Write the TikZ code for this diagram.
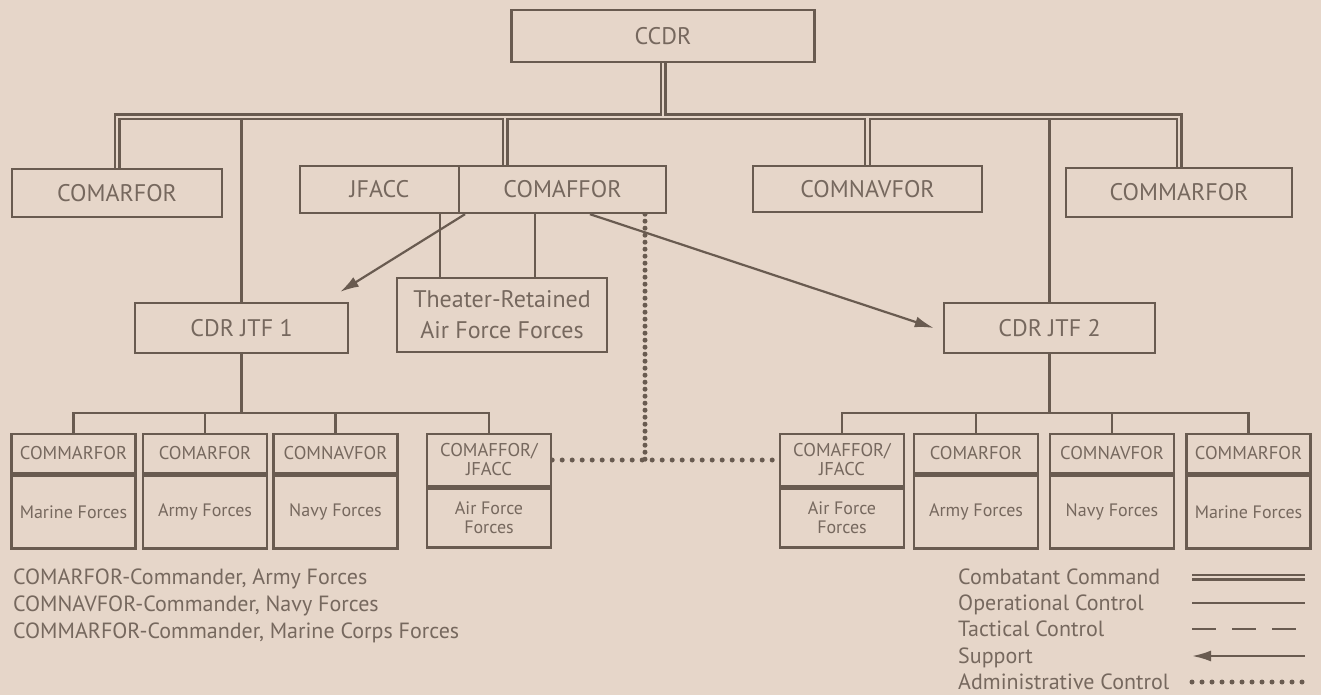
\documentclass[tikz,border=0pt]{standalone}
\usepackage{fontspec}
\setmainfont{PT Sans}
\usetikzlibrary{arrows.meta,backgrounds}
\definecolor{paper}{RGB}{230,214,201}
\definecolor{ink}{RGB}{105,91,80}
\definecolor{txt}{RGB}{118,104,94}
\tikzset{
  box/.style={draw=ink, line width=2.4pt, fill=paper, text=txt, inner sep=0pt, align=center},
  big/.style={box, font=\fontsize{24}{31}\selectfont},
  hdr/.style={box, font=\fontsize{18.5}{19}\selectfont, minimum width=124pt, minimum height=39pt},
  frc/.style={box, font=\fontsize{18}{19}\selectfont, minimum width=124pt, minimum height=73pt, anchor=north},
  opcon/.style={draw=ink, line width=2.2pt},
  supp/.style={draw=ink, line width=2.2pt, -{Latex[length=19pt,width=11pt]}},
  admin/.style={draw=ink, line width=5pt, line cap=round, dash pattern=on 0pt off 10pt},
  tacon/.style={draw=ink, line width=2.2pt, dash pattern=on 24pt off 16pt},
  key/.style={text=txt, anchor=west, inner sep=0pt, text height=15pt, text depth=0pt, font=\fontsize{22}{24}\selectfont}
}
\begin{document}
\begin{tikzpicture}[x=1pt,y=-1pt]
\useasboundingbox (0,0) rectangle (1321,695);

\node[big, minimum width=303pt, minimum height=52pt] (CCDR) at (663,36) {CCDR};
\node[big, minimum width=210pt, minimum height=48pt] (ARF) at (117,193) {COMARFOR};
\node[big, minimum width=159pt, minimum height=47pt] (JFACC) at (379.5,189.5) {JFACC};
\node[big, minimum width=207pt, minimum height=47pt] (AFF) at (562.5,189.5) {COMAFFOR};
\node[big, minimum width=229pt, minimum height=46pt] (NAVF) at (867.5,189) {COMNAVFOR};
\node[big, minimum width=226pt, minimum height=49pt] (MARF) at (1179,192.5) {COMMARFOR};
\node[big, minimum width=213pt, minimum height=50pt] (JTF1) at (241.5,328) {CDR JTF 1};
\node[big, minimum width=210pt, minimum height=74pt] (TR) at (502,315) {Theater-Retained\\Air Force Forces};
\node[big, minimum width=211pt, minimum height=50pt] (JTF2) at (1049.5,328) {CDR JTF 2};

\node[hdr] (A1) at (73.5,453.5) {COMMARFOR};
\node[frc] (A1f) at (A1.south) {Marine Forces};
\node[hdr] (A2) at (205,453.5) {COMARFOR};
\node[frc] (A2f) at (A2.south) {Army Forces};
\node[hdr] (A3) at (335.5,453.5) {COMNAVFOR};
\node[frc] (A3f) at (A3.south) {Navy Forces};
\node[hdr, minimum height=52pt] (A4) at (489,460) {COMAFFOR/\\JFACC};
\node[frc, minimum height=59pt] (A4f) at (A4.south) {Air Force\\Forces};

\node[hdr, minimum height=52pt] (B1) at (842,460) {COMAFFOR/\\JFACC};
\node[frc, minimum height=59pt] (B1f) at (B1.south) {Air Force\\Forces};
\node[hdr] (B2) at (976,453.5) {COMARFOR};
\node[frc] (B2f) at (B2.south) {Army Forces};
\node[hdr] (B3) at (1112,453.5) {COMNAVFOR};
\node[frc] (B3f) at (B3.south) {Navy Forces};
\node[hdr] (B4) at (1248.5,453.5) {COMMARFOR};
\node[frc] (B4f) at (B4.south) {Marine Forces};

\node[key] (L1) at (13,577) {COMARFOR-Commander, Army Forces};
\node[key] (L2) at (13,604) {COMNAVFOR-Commander, Navy Forces};
\node[key] (L3) at (13,631) {COMMARFOR-Commander, Marine Corps Forces};

\node[key] (K1) at (958,577) {Combatant Command};
\node[key] (K2) at (958,603) {Operational Control};
\node[key] (K3) at (958,629) {Tactical Control};
\node[key] (K4) at (958,656) {Support};
\node[key] (K5) at (958,682) {Administrative Control};

\coordinate (bus) at (0,117);
\coordinate (bus2) at (0,413);
\coordinate (affx) at (505,0);
\coordinate (tl) at (440,0);
\coordinate (tr) at (535,0);
\coordinate (s1) at (465,0);
\coordinate (s2) at (590,0);
\coordinate (tip1) at (340,292);
\coordinate (ax) at (645,0);
\coordinate (kl) at (1192,0);
\coordinate (kr) at (1305,0);

\begin{scope}[on background layer]
\fill[paper] (0,0) rectangle (1321,695);
\draw[opcon] (JTF1.north) -- (JTF1.north |- bus);
\draw[opcon] (JTF2.north) -- (JTF2.north |- bus);
\foreach \w/\c in {7pt/ink,2.4pt/paper}
  \draw[\c, line width=\w] (ARF.north) |- (MARF.north |- bus) -- (MARF.north)
    (CCDR.south) -- (CCDR.south |- bus)
    (affx |- AFF.north) -- (affx |- bus)
    (NAVF.north) -- (NAVF.north |- bus);
\draw[opcon] (tl |- JFACC.south) -- (tl |- TR.north);
\draw[opcon] (tr |- AFF.south) -- (tr |- TR.north);
\draw[supp] (s1 |- AFF.south) -- (tip1);
\draw[supp] (s2 |- AFF.south) -- ([xshift=-9pt]JTF2.west);
\draw[admin, dash pattern=on 0pt off 7pt] (ax |- AFF.south) -- (ax |- A4.east);
\draw[admin] (A4.east) -- (B1.west);

\draw[opcon] (JTF1.south) -- (JTF1.south |- bus2);
\draw[opcon] (A1.north) |- (A4.north |- bus2) -- (A4.north);
\draw[opcon] (A2.north) -- (A2.north |- bus2);
\draw[opcon] (A3.north) -- (A3.north |- bus2);
\draw[opcon] (JTF2.south) -- (JTF2.south |- bus2);
\draw[opcon] (B1.north) |- (B4.north |- bus2) -- (B4.north);
\draw[opcon] (B2.north) -- (B2.north |- bus2);
\draw[opcon] (B3.north) -- (B3.north |- bus2);
\end{scope}

\draw[ink, line width=2.2pt, double=paper, double distance=2.6pt] (kl |- K1) -- (kr |- K1);
\draw[opcon] (kl |- K2) -- (kr |- K2);
\draw[tacon] (kl |- K3) -- (kr |- K3);
\draw[supp] (kr |- K4) -- (kl |- K4);
\draw[admin] (kl |- K5) -- (kr |- K5);

\end{tikzpicture}
\end{document}
